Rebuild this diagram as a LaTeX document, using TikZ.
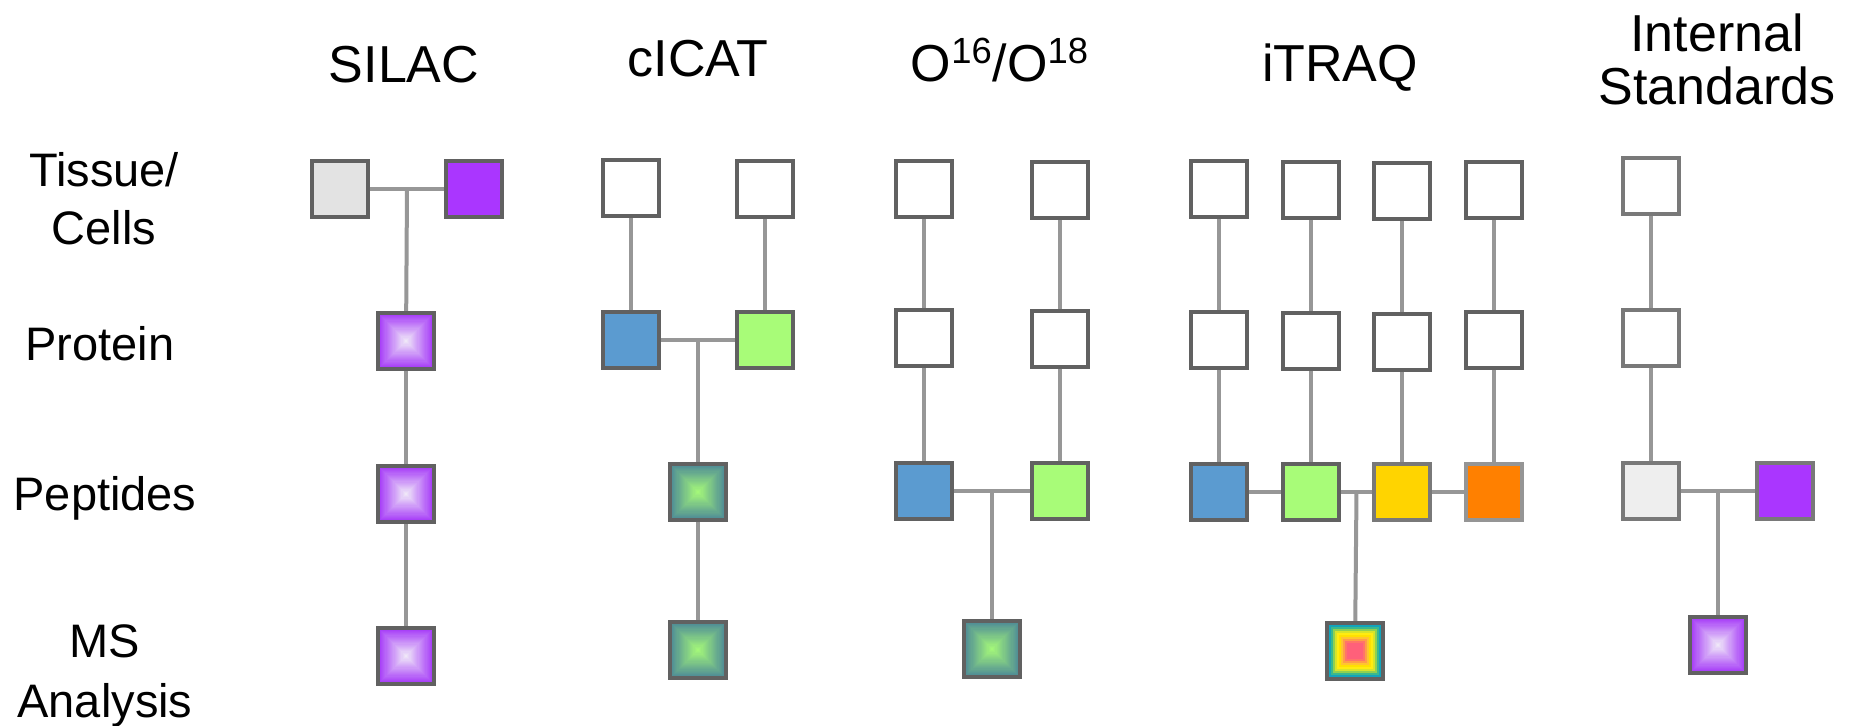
\documentclass[tikz,border=0pt]{standalone}
\usepackage{fontspec}
\setmainfont{Liberation Sans}
\usetikzlibrary{calc}
\pgfdeclarelayer{background}
\pgfsetlayers{background,main}
\definecolor{bd}{HTML}{616161}
\definecolor{bdl}{HTML}{959595}
\definecolor{cn}{HTML}{979797}
\definecolor{lgray}{HTML}{E3E3E3}
\definecolor{lgray2}{HTML}{EEEEEE}
\definecolor{purp}{HTML}{AA36FF}
\definecolor{blu}{HTML}{5B9BD0}
\definecolor{grn}{HTML}{A8FC78}
\definecolor{yel}{HTML}{FFD400}
\definecolor{org}{HTML}{FF8000}
\definecolor{purpe}{HTML}{A232F8}
\definecolor{purpc}{HTML}{F2EEF8}
\definecolor{tealE}{HTML}{4A8698}
\definecolor{tealC}{HTML}{A8FC78}
\newcommand\pyramidfill[2]{%
  \foreach \k in {0,...,24}{%
    \pgfmathsetmacro\hs{14.3*(1-\k/25)}%
    \pgfmathtruncatemacro\pp{4*\k}%
    \fill[#1!\pp!#2] ([shift={(-\hs pt,-\hs pt)}]path picture bounding box.center) rectangle ([shift={(\hs pt,\hs pt)}]path picture bounding box.center);
  }}
\newcommand\rainbowfill{%
  \foreach \c [count=\k from 0] in {1E90D6,12A4BC,3CB88C,8FD052,D8E42A,FFEC10,FFE000,FFC530,FF9E48,FF7468,FF607A}{%
    \definecolor{tmpc}{HTML}{\c}%
    \pgfmathsetmacro\hs{14.3-\k*1.05}%
    \fill[tmpc] ([shift={(-\hs pt,-\hs pt)}]path picture bounding box.center) rectangle ([shift={(\hs pt,\hs pt)}]path picture bounding box.center);
  }}
\tikzset{
  bx/.style={draw=bd, line width=1.9pt, minimum size=28.1pt, inner sep=0pt, fill=white},
  pyrpurple/.style={bx, path picture={\pyramidfill{purpc}{purpe}}},
  pyrteal/.style={bx, path picture={\pyramidfill{tealC}{tealE}}},
  rainbow/.style={bx, path picture={\rainbowfill}},
  ln/.style={draw=cn, line width=2pt},
  hd/.style={font=\fontsize{26}{26.5}\selectfont, anchor=base, inner sep=0pt},
  lb/.style={font=\fontsize{23.5}{30}\selectfont, anchor=base, inner sep=0pt},
}
\begin{document}
\begin{tikzpicture}[x=0.5pt,y=-0.5pt]
\useasboundingbox (0,0) rectangle (1858,726);
% headers
\node[hd] (hsilac) at (404,83) {SILAC};
\node[hd] (hcicat) at (698,77) {cICAT};
\node[hd] (ho) at (1000,82) {O\textsuperscript{16}/O\textsuperscript{18}};
\node[hd] (hitraq) at (1340,82) {iTRAQ};
\node[hd] (his1) at (1717,52) {Internal};
\node[hd] (his2) at (1717,105) {Standards};
% row labels
\node[lb] (ltis) at (104,187) {Tissue/};
\node[lb] (lcel) at (104,245) {Cells};
\node[lb] (lpro) at (100,361) {Protein};
\node[lb] (lpep) at (105,511) {Peptides};
\node[lb] (lms) at (105,657) {MS};
\node[lb] (lana) at (105,717) {Analysis};
% SILAC
\node[bx, fill=lgray] (s1) at (340,189) {};
\node[bx, fill=purp] (s2) at (474,189) {};
\node[pyrpurple] (sp) at (406,341) {};
\node[pyrpurple] (spe) at (406,494) {};
\node[pyrpurple] (sm) at (406,656) {};
% cICAT
\node[bx] (c1) at (631,188) {};
\node[bx] (c2) at (765,189) {};
\node[bx, fill=blu] (cp1) at (631,340) {};
\node[bx, fill=grn] (cp2) at (765,340) {};
\node[pyrteal] (cpe) at (698,492) {};
\node[pyrteal] (cm) at (698,650) {};
% O16/O18
\node[bx] (o1) at (924,189) {};
\node[bx] (o2) at (1060,190) {};
\node[bx] (op1) at (924,338) {};
\node[bx] (op2) at (1060,339) {};
\node[bx, fill=blu] (ope1) at (924,491) {};
\node[bx, fill=grn] (ope2) at (1060,491) {};
\node[pyrteal] (om) at (992,649) {};
% iTRAQ
\node[bx] (i1) at (1219,189) {};
\node[bx] (i2) at (1311,190) {};
\node[bx] (i3) at (1402,191) {};
\node[bx] (i4) at (1494,190) {};
\node[bx] (ip1) at (1219,340) {};
\node[bx] (ip2) at (1311,341) {};
\node[bx] (ip3) at (1402,342) {};
\node[bx] (ip4) at (1494,340) {};
\node[bx, fill=blu] (ipe1) at (1219,492) {};
\node[bx, fill=grn] (ipe2) at (1311,492) {};
\node[bx, fill=yel, draw=bd!85!white] (ipe3) at (1402,492) {};
\node[bx, fill=org, draw=bdl] (ipe4) at (1494,492) {};
\node[rainbow] (im) at (1355,651) {};
% Internal standards
\node[bx, draw=bd!85!white] (n1) at (1651,186) {};
\node[bx, draw=bd!85!white] (np) at (1651,338) {};
\node[bx, fill=lgray2, draw=bd!85!white] (npe1) at (1651,491) {};
\node[bx, fill=purp, draw=bd!85!white] (npe2) at (1785,491) {};
\node[pyrpurple] (nm) at (1718,645) {};
% connectors
\begin{pgfonlayer}{background}
\coordinate (js) at ($(s1)!0.5!(s2)$);
\draw[ln] (s1) -- (s2);
\draw[ln] (js) -- (sp);
\draw[ln] (sp) -- (spe);
\draw[ln] (spe) -- (sm);
\draw[ln] (c1) -- (cp1);
\draw[ln] (c2) -- (cp2);
\coordinate (jc) at ($(cp1)!0.5!(cp2)$);
\draw[ln] (cp1) -- (cp2);
\draw[ln] (jc) -- (cpe);
\draw[ln] (cpe) -- (cm);
\draw[ln] (o1) -- (op1);
\draw[ln] (o2) -- (op2);
\draw[ln] (op1) -- (ope1);
\draw[ln] (op2) -- (ope2);
\coordinate (jo) at ($(ope1)!0.5!(ope2)$);
\draw[ln] (ope1) -- (ope2);
\draw[ln] (jo) -- (om);
\draw[ln] (i1) -- (ip1);
\draw[ln] (i2) -- (ip2);
\draw[ln] (i3) -- (ip3);
\draw[ln] (i4) -- (ip4);
\draw[ln] (ip1) -- (ipe1);
\draw[ln] (ip2) -- (ipe2);
\draw[ln] (ip3) -- (ipe3);
\draw[ln] (ip4) -- (ipe4);
\draw[ln] (ipe1) -- (ipe2);
\draw[ln] (ipe2) -- (ipe3);
\draw[ln] (ipe3) -- (ipe4);
\coordinate (ji) at ($(ipe2)!0.5!(ipe3)$);
\draw[ln] (ji) -- (im);
\draw[ln] (n1) -- (np);
\draw[ln] (np) -- (npe1);
\coordinate (jn) at ($(npe1)!0.5!(npe2)$);
\draw[ln] (npe1) -- (npe2);
\draw[ln] (jn) -- (nm);
\end{pgfonlayer}
\end{tikzpicture}
\end{document}
